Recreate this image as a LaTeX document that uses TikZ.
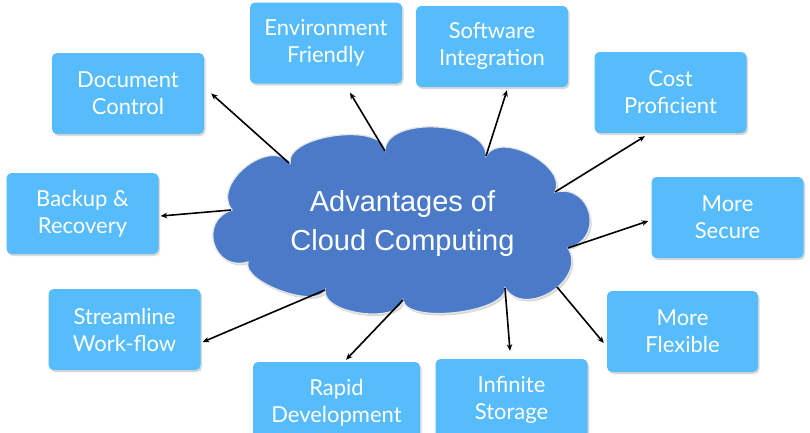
\documentclass[tikz,border=0pt]{standalone}
\usepackage{fontspec}
\newfontfamily\boxfont{Lato}
\newfontfamily\cloudfont{Liberation Sans}
\usetikzlibrary{arrows.meta,shadows,calc}
\definecolor{boxblue}{HTML}{56BCFB}
\definecolor{cloudblue}{HTML}{4A7AC8}
\definecolor{cloudedge}{HTML}{E6E6E6}
\tikzset{
 adv/.style={rectangle, rounded corners=5pt, fill=boxblue, minimum width=152pt, minimum height=81pt,
   align=center, text=white, font=\boxfont\fontsize{22}{27}\selectfont, inner sep=0pt,
   drop shadow={shadow xshift=1.5pt, shadow yshift=-2pt, opacity=0.3}},
 arr/.style={line width=1.6pt, -{Stealth[length=6.5pt,width=5.5pt]}},
 bump/.style={bend left=90, looseness=#1},
 cloudtitle/.style={text=white, font=\cloudfont\fontsize{29}{39}\selectfont, anchor=base},
}
\begin{document}
\begin{tikzpicture}[x=1pt,y=-1pt]
\useasboundingbox (0,0) rectangle (810,432);
\fill[white] (0,0) rectangle (810,432);
% cloud outline valleys
\coordinate (A) at (290,163);
\coordinate (B) at (385,150);
\coordinate (C) at (486,156);
\coordinate (D) at (555,192);
\coordinate (E) at (568,248);
\coordinate (F) at (505,288);
\coordinate (P) at (403,300);
\coordinate (G) at (325,290);
\coordinate (H) at (248,262);
\coordinate (I) at (232,210);
\draw[fill=cloudblue, draw=cloudedge, line width=1.3pt,
      drop shadow={shadow xshift=1.5pt, shadow yshift=-2pt, opacity=0.3}]
  (A) to[bump=0.75] (B) to[bump=0.88] (C) to[bump=0.96] (D) to[bump=1.7] (E)
  to[bump=1.28] (F) to[bump=0.62] (P) to[bump=0.8] (G) to[bump=0.66] (H)
  to[bump=1.7] (I) to[bump=1.14] (A) -- cycle;
\node[cloudtitle] (t1) at (402.5,211) {Advantages of};
\node[cloudtitle] (t2) at (402.5,250) {Cloud Computing};
% start points on cloud
\coordinate (c1) at (289,163);
\coordinate (c2) at (385,151);
\coordinate (c3) at (486,156);
\coordinate (c4) at (555,192);
\coordinate (c5) at (568,248);
\coordinate (c6) at (231,210);
\coordinate (c7) at (325,290);
\coordinate (c8) at (403,300);
\coordinate (c9) at (505,288);
\coordinate (c10) at (557,287);
% boxes
\node[adv] (doc) at (128,93.5) {Document\\Control};
\node[adv] (env) at (326,43) {Environment\\Friendly};
\node[adv] (soft) at (492,46.5) {Software\\Integration};
\node[adv] (cost) at (670.5,92.5) {Cost\\Proficient};
\node[adv] (secure) at (727.5,217.5) {More\\Secure};
\node[adv] (backup) at (82.5,213.5) {Backup \&\\Recovery};
\node[adv] (stream) at (124.5,329.5) {Streamline\\Work-flow};
\node[adv, minimum width=167pt] (rapid) at (336.5,402.5) {Rapid\\Development};
\node[adv] (inf) at (511.5,399.5) {Infinite\\Storage};
\node[adv, minimum width=151pt] (flex) at (682.5,331.5) {More\\Flexible};
% arrows
\draw[arr] (c1) -- ($(doc.east)+(7,0)$);
\draw[arr] (c2) -- ($(env.south)+(24,9)$);
\draw[arr] (c3) -- ($(soft.south)+(15,3)$);
\draw[arr] (c4) -- ($(cost.south)+(-25.5,3)$);
\draw[arr] (c5) -- ($(secure.west)+(-3,3.5)$);
\draw[arr] (c6) -- ($(backup.east)+(2,2.5)$);
\draw[arr] (c7) -- ($(stream.east)+(2,12.5)$);
\draw[arr] (c8) -- ($(rapid.north)+(9.5,-2)$);
\draw[arr] (c9) -- ($(inf.north)+(-1.5,-8)$);
\draw[arr] (c10) -- ($(flex.west)+(-3,11.5)$);
\end{tikzpicture}
\end{document}
